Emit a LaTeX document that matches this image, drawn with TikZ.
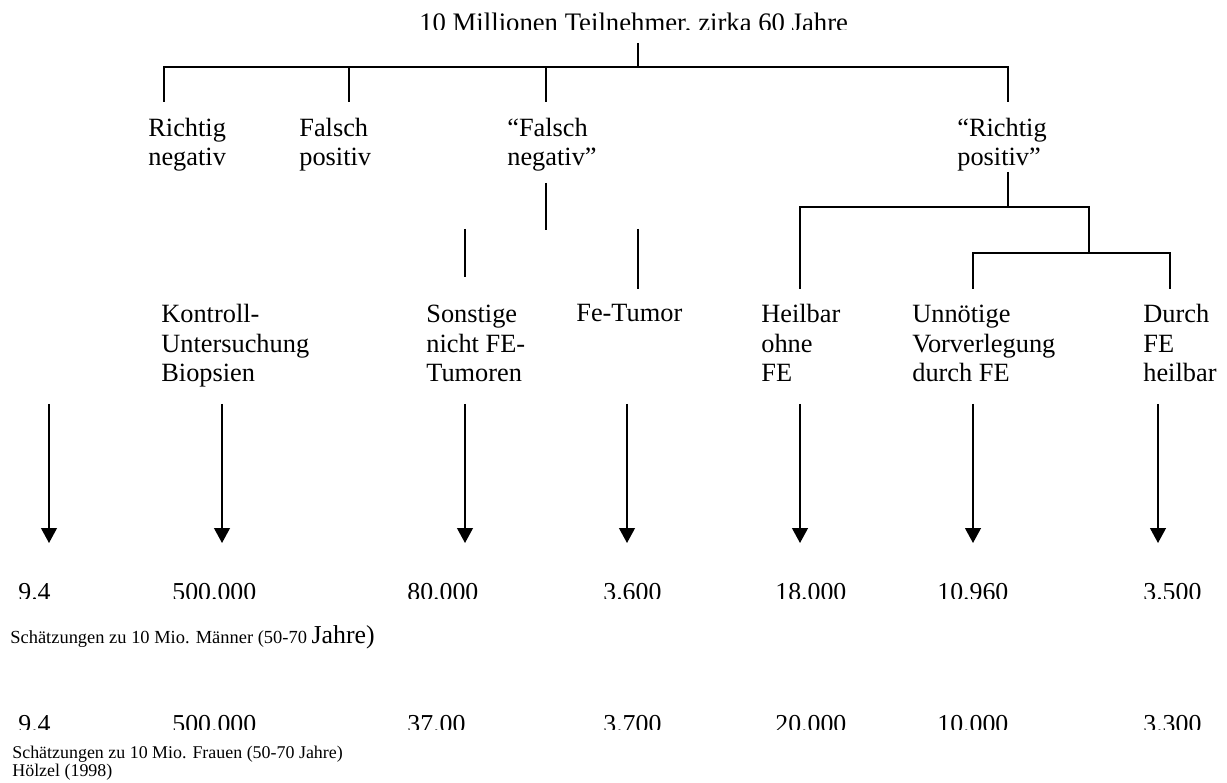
\documentclass[tikz,border=0pt]{standalone}
\usepackage{fontspec}
\setmainfont{Liberation Serif}
\usetikzlibrary{arrows.meta}

\begin{document}
\begin{tikzpicture}[
        x=0.02cm, y=-0.02cm,
        lbl/.style={anchor=base west, inner sep=0pt, align=left, font=\fontsize{15}{17}\selectfont},
        num/.style={anchor=base west, inner sep=0pt, font=\fontsize{14.7}{17}\selectfont},
        note/.style={anchor=base west, inner sep=0pt, align=left},
        branch/.style={line width=0.9pt},
        down/.style={line width=0.9pt, -{Triangle[length=8.5pt, width=9pt]}}
    ]
        \useasboundingbox (0,0) rectangle (1227,783);

        % title, lower edge cut off as in the original
        \begin{scope}
            \clip (0,0) rectangle (1227,30);
            \node[num, font=\fontsize{15.2}{17}\selectfont] (title) at (419,32) {10 Millionen Teilnehmer, zirka 60 Jahre};
        \end{scope}

        % first split
        \coordinate (r0) at (638,43);
        \coordinate (r1) at (638,67);
        \coordinate (a1) at (164,102);
        \coordinate (b1) at (349,102);
        \coordinate (c1) at (546,102);
        \coordinate (d1) at (1008,102);
        \draw[branch] (r0) -- (r1);
        \draw[branch] (a1) |- (d1 |- r1) -- (d1);
        \draw[branch] (b1) -- (b1 |- r1);
        \draw[branch] (c1) -- (c1 |- r1);

        % multi-line nodes sit on their last line
        \node[lbl] (rn) at (148,166) {Richtig\\negativ};
        \node[lbl] (fp) at (299,166) {Falsch\\positiv};
        \node[lbl] (fn) at (507,166) {“Falsch\\negativ”};
        \node[lbl] (rp) at (957,166) {“Richtig\\positiv”};

        % below "Falsch negativ"
        \coordinate (fn0) at (546,183);
        \coordinate (fn1) at (546,230);
        \coordinate (sn0) at (465,229);
        \coordinate (sn1) at (465,277);
        \coordinate (ft0) at (638,229);
        \coordinate (ft1) at (638,289);
        \draw[branch] (fn0) -- (fn1);
        \draw[branch] (sn0) -- (sn1);
        \draw[branch] (ft0) -- (ft1);

        % below "Richtig positiv"
        \coordinate (rp0) at (1008,172);
        \coordinate (rp1) at (1008,207);
        \coordinate (hf) at (800,289);
        \coordinate (j1) at (1089,253);
        \coordinate (uv) at (973,289);
        \coordinate (dh) at (1170,289);
        \draw[branch] (rp0) -- (rp1);
        \draw[branch] (hf) |- (j1 |- rp1) -- (j1);
        \draw[branch] (uv) |- (dh |- j1) -- (dh);

        \node[lbl] (kub) at (161,382) {Kontroll-\\Untersuchung\\Biopsien};
        \node[lbl] (snf) at (426,382) {Sonstige\\nicht FE-\\Tumoren};
        \node[lbl] (fet) at (576,322) {Fe-Tumor};
        \node[lbl] (hof) at (761,382) {Heilbar\\ohne\\FE};
        \node[lbl] (uvf) at (912,382) {Unnötige\\Vorverlegung\\durch FE};
        \node[lbl] (dfh) at (1143,382) {Durch\\FE\\heilbar};

        % arrows to the numbers
        \foreach \x/\n in {49/1, 222/2, 465/3, 627/4, 800/5, 973/6, 1158/7} {
            \coordinate (s\n) at (\x,404);
            \coordinate (e\n) at (\x,543);
            \draw[down] (s\n) -- (e\n);
        }

        % men
        \begin{scope}
            \clip (0,560) rectangle (1227,598);
            \node[num] (m1) at (18,600) {9.4};
            \node[num] (m2) at (172,600) {500.000};
            \node[num] (m3) at (407,600) {80.000};
            \node[num] (m4) at (603,600) {3.600};
            \node[num] (m5) at (775,600) {18.000};
            \node[num] (m6) at (937,600) {10.960};
            \node[num] (m7) at (1143,600) {3.500};
        \end{scope}
        \node[note, font=\fontsize{10.5}{12}\selectfont] (men) at (10,643)
            {Schätzungen zu 10 Mio. Männer (50-70 {\fontsize{14.7}{17}\selectfont Jahre)}};

        % women
        \begin{scope}
            \clip (0,690) rectangle (1227,729);
            \node[num] (w1) at (18,732) {9.4};
            \node[num] (w2) at (172,732) {500.000};
            \node[num] (w3) at (407,732) {37.00};
            \node[num] (w4) at (603,732) {3.700};
            \node[num] (w5) at (775,732) {20.000};
            \node[num] (w6) at (937,732) {10.000};
            \node[num] (w7) at (1143,732) {3.300};
        \end{scope}
        \node[note, font=\fontsize{10.2}{10.2}\selectfont] (women) at (12,776)
            {Schätzungen zu 10 Mio. Frauen (50-70 Jahre)\\Hölzel (1998)};
    \end{tikzpicture}
\end{document}
